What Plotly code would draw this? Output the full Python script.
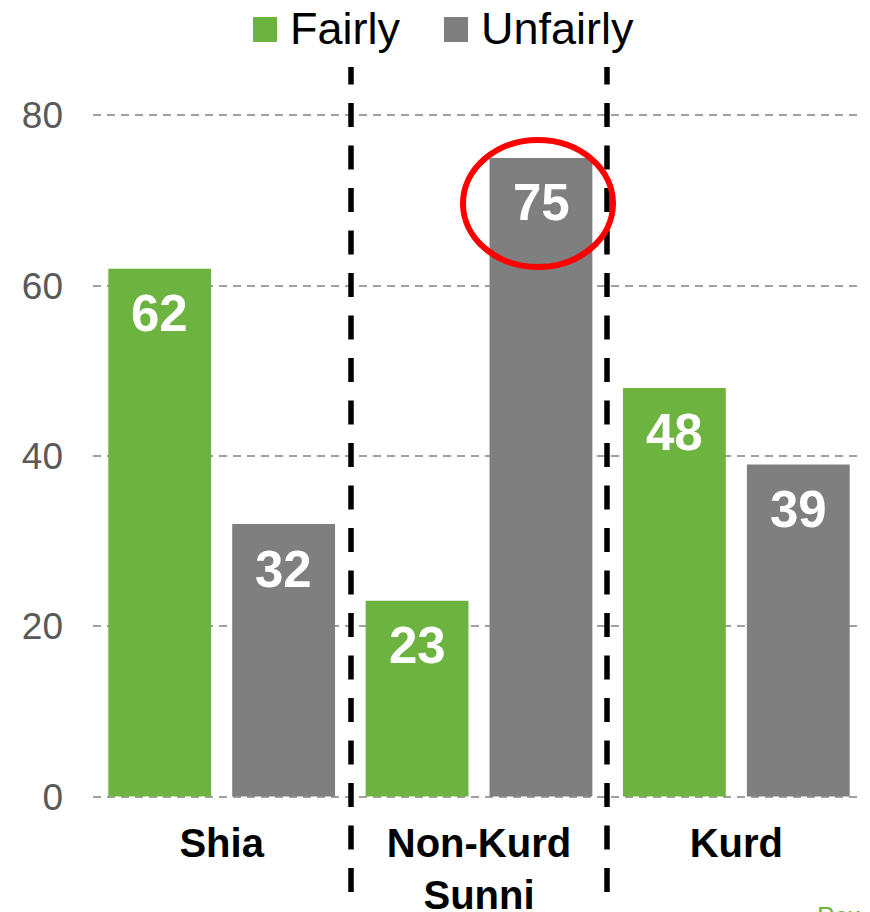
import plotly.graph_objects as go

categories = ["Shia", "Non-Kurd<br>Sunni", "Kurd"]
fairly = [62, 23, 48]
unfairly = [32, 75, 39]
series_names = ["Fairly", "Unfairly"]
series_colors = ["#6DB33F", "#7F7F7F"]
y_ticks = [0, 20, 40, 60, 80]

# page offset (default body margin of the html page)
OFF = 8
W, H = 870 - OFF, 912 - OFF
ML, MR, MT, MB = 85, 5, 104, 112
PW, PH = W - ML - MR, H - MT - MB
FONT = "Liberation Sans, Arial, sans-serif"


def px(x):
    """page pixel x -> paper coordinate"""
    return (x - OFF - ML) / PW


def py(y):
    """page pixel y -> paper coordinate"""
    return (H - MB - (y - OFF)) / PH


fig = go.Figure()
for name, vals, color in zip(series_names, [fairly, unfairly], series_colors):
    fig.add_trace(go.Bar(x=categories, y=vals, name=name, marker_color=color,
                         marker_line_width=0, showlegend=False, hoverinfo="skip"))

annotations = []
# data labels inside bars near top
for k, vals in enumerate([fairly, unfairly]):
    shift = -62 if k == 0 else 62
    for c, v in zip(categories, vals):
        annotations.append(dict(x=c, y=v, xref="x", yref="y", text=f"<b>{v}</b>",
                                showarrow=False, xshift=shift, yshift=-45,
                                yanchor="middle", xanchor="center",
                                font=dict(family=FONT, size=51, color="white")))

# custom legend
shapes = []
leg_sq_x = [253, 444]
leg_tx_x = [290, 481]
for name, color, sx, tx in zip(series_names, series_colors, leg_sq_x, leg_tx_x):
    shapes.append(dict(type="rect", xref="paper", yref="paper",
                       x0=px(sx), x1=px(sx + 24), y0=py(42), y1=py(17),
                       fillcolor=color, line_width=0))
    annotations.append(dict(x=px(tx - 2), y=py(29), xref="paper", yref="paper",
                            text=name, showarrow=False, xanchor="left", yanchor="middle",
                            font=dict(family=FONT, size=45, color="black")))

# dashed separators between groups
for sepx in [351, 607]:
    shapes.append(dict(type="line", xref="paper", yref="paper",
                       x0=px(sepx), x1=px(sepx), y0=py(892), y1=py(67),
                       line=dict(color="black", width=5.5, dash="24px,18.5px")))

# red ellipse highlight
shapes.append(dict(type="circle", xref="paper", yref="paper",
                   x0=px(463), x1=px(613), y0=py(267), y1=py(140),
                   line=dict(color="#FF0000", width=6)))

# cut-off source text at bottom right
annotations.append(dict(x=px(815), y=py(899), xref="paper", yref="paper",
                        text="Pew Research Center", showarrow=False,
                        xanchor="left", yanchor="top",
                        font=dict(family=FONT, size=26, color="#6DB33F")))

fig.update_layout(
    width=W, height=H,
    margin=dict(l=ML, r=MR, t=MT, b=MB, pad=0, autoexpand=False),
    paper_bgcolor="white", plot_bgcolor="white",
    barmode="group", bargap=0.037, bargroupgap=0.17,
    shapes=shapes, annotations=annotations,
    showlegend=False,
)
fig.update_xaxes(range=[-0.5, 2.5], showgrid=False, showline=False, ticks="",
                 automargin=False, ticklabelstandoff=16,
                 tickfont=dict(family=FONT, size=40, color="black", weight="bold"))
fig.update_yaxes(range=[-0.4, 80.4], tickvals=y_ticks, showgrid=True,
                 gridcolor="#A0A0A0", gridwidth=1.5, griddash="8px,6px",
                 zeroline=False, showline=False, ticks="", ticklabelstandoff=29,
                 automargin=False,
                 tickfont=dict(family=FONT, size=37, color="#595959"))

fig.write_html("out.html")
